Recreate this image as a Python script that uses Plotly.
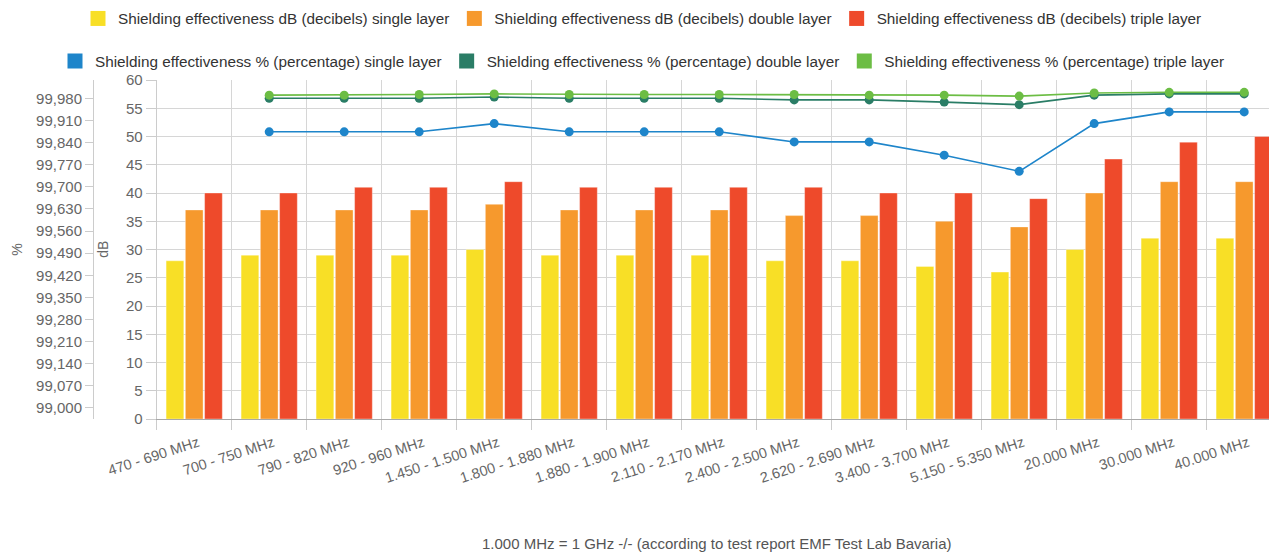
import plotly.graph_objects as go

categories = ["470 - 690 MHz", "700 - 750 MHz", "790 - 820 MHz", "920 - 960 MHz",
              "1.450 - 1.500 MHz", "1.800 - 1.880 MHz", "1.880 - 1.900 MHz",
              "2.110 - 2.170 MHz", "2.400 - 2.500 MHz", "2.620 - 2.690 MHz",
              "3.400 - 3.700 MHz", "5.150 - 5.350 MHz", "20.000 MHz", "30.000 MHz",
              "40.000 MHz"]

db_single = [28, 29, 29, 29, 30, 29, 29, 29, 28, 28, 27, 26, 30, 32, 32]
db_double = [37, 37, 37, 37, 38, 37, 37, 37, 36, 36, 35, 34, 40, 42, 42]
db_triple = [40, 40, 41, 41, 42, 41, 41, 41, 41, 40, 40, 39, 46, 49, 50]

pct_single = [None, 99.874, 99.874, 99.874, 99.900, 99.874, 99.874, 99.874,
              99.842, 99.842, 99.800, 99.749, 99.900, 99.937, 99.937]
pct_double = [None, 99.980, 99.980, 99.980, 99.984, 99.980, 99.980, 99.980,
              99.975, 99.975, 99.968, 99.960, 99.990, 99.994, 99.994]
pct_triple = [None, 99.990, 99.990, 99.992, 99.994, 99.992, 99.992, 99.992,
              99.992, 99.990, 99.990, 99.987, 99.997, 99.999, 99.999]

pct_ticks = [99.00, 99.07, 99.14, 99.21, 99.28, 99.35, 99.42, 99.49, 99.56,
             99.63, 99.70, 99.77, 99.84, 99.91, 99.98]
db_ticks = [0, 5, 10, 15, 20, 25, 30, 35, 40, 45, 50, 55, 60]

bar_names = ["Shielding effectiveness dB (decibels) single layer",
             "Shielding effectiveness dB (decibels) double layer",
             "Shielding effectiveness dB (decibels) triple layer"]
line_names = ["Shielding effectiveness % (percentage) single layer",
              "Shielding effectiveness % (percentage) double layer",
              "Shielding effectiveness % (percentage) triple layer"]
bar_colors = ["#F8DF26", "#F6992D", "#EE4A2B"]
line_colors = ["#1E85CA", "#2A7D66", "#6CBD44"]

# the page body adds an 8px margin; figure is sized/positioned to compensate
OFF = 8
W, H = 1277 - OFF, 554 - OFF
FONT = "Liberation Sans, Arial, sans-serif"


def fx(sx):
    return sx - OFF


def fy(sy):
    return sy - OFF


plot_left = fx(156.7)
plot_top = fy(80)
plot_bottom = fy(419.3)
plot_h = plot_bottom - plot_top


def py(sy):
    return (plot_bottom - fy(sy)) / plot_h


fig = go.Figure()

for name, vals, col in zip(bar_names, [db_single, db_double, db_triple], bar_colors):
    fig.add_trace(go.Bar(
        x=categories, y=vals, name=name, marker_color=col,
        marker_line=dict(color="rgba(255,255,255,0.35)", width=1),
        xaxis="x", yaxis="y", showlegend=False))

for name, vals, col in zip(line_names, [pct_single, pct_double, pct_triple], line_colors):
    fig.add_trace(go.Scatter(
        x=categories, y=vals, name=name, mode="lines+markers",
        line=dict(color=col, width=1.6), marker=dict(color=col, size=9),
        xaxis="x", yaxis="y2", showlegend=False))

# square legend swatches
for name, col in zip(bar_names, bar_colors):
    fig.add_trace(go.Scatter(
        x=[None], y=[None], name=name, mode="markers",
        marker=dict(color=col, size=15, symbol="square"),
        xaxis="x", yaxis="y", legend="legend"))
for name, col in zip(line_names, line_colors):
    fig.add_trace(go.Scatter(
        x=[None], y=[None], name=name, mode="markers",
        marker=dict(color=col, size=15, symbol="square"),
        xaxis="x", yaxis="y2", legend="legend2"))

ncat_visible = (W - plot_left) / 75.0

fig.update_layout(
    width=W, height=H,
    margin=dict(l=0, r=0, t=plot_top, b=H - plot_bottom, autoexpand=False),
    paper_bgcolor="white", plot_bgcolor="white",
    font=dict(family=FONT, color="#666666", size=15),
    separators=",.",
    barmode="group", bargap=0.23, bargroupgap=0.08,
    xaxis=dict(
        domain=[plot_left / W, 1], type="category",
        range=[-0.5, -0.5 + ncat_visible],
        tickson="boundaries", ticks="outside", ticklen=10, tickcolor="#cccccc",
        showgrid=True, gridcolor="#d6d6d6", gridwidth=1,
        showline=True, linecolor="#a8a8a8", linewidth=1,
        tickangle=-18, ticklabelstandoff=9, ticklabelshift=4,
        tickfont=dict(size=14.5, color="#666666"),
        automargin=False, zeroline=False),
    yaxis=dict(
        range=[0, 60], tickvals=db_ticks, ticks="outside", ticklen=10,
        tickcolor="#cccccc", showline=True, linecolor="#cccccc",
        showgrid=True, gridcolor="#d6d6d6", gridwidth=1, zeroline=False,
        tickfont=dict(size=15, color="#666666"), automargin=False),
    yaxis2=dict(
        overlaying="y", anchor="free", side="left", position=fx(93) / W,
        range=[98.965, 100.038], tickvals=pct_ticks, tickformat=".3f",
        ticks="outside", ticklen=8, tickcolor="#cccccc",
        showline=True, linecolor="#cccccc", showgrid=False, zeroline=False,
        tickfont=dict(size=15, color="#666666"), automargin=False),
    legend=dict(
        orientation="h", xref="container", yref="container",
        x=0.5, xanchor="center", y=1 - fy(18.5) / H, yanchor="middle",
        font=dict(size=15.3, color="#333333"), bgcolor="rgba(0,0,0,0)",
        traceorder="normal"),
    legend2=dict(
        orientation="h", xref="container", yref="container",
        x=0.5, xanchor="center", y=1 - fy(61) / H, yanchor="middle",
        font=dict(size=15.3, color="#333333"), bgcolor="rgba(0,0,0,0)",
        traceorder="normal"),
    showlegend=True,
    annotations=[
        dict(text="%", xref="paper", yref="paper", x=fx(17) / W, y=py(250),
             textangle=-90, showarrow=False, font=dict(size=14, color="#666666"),
             xanchor="center", yanchor="middle"),
        dict(text="dB", xref="paper", yref="paper", x=fx(103) / W, y=py(250),
             textangle=-90, showarrow=False, font=dict(size=14, color="#666666"),
             xanchor="center", yanchor="middle"),
        dict(text="1.000 MHz = 1 GHz -/- (according to test report EMF Test Lab Bavaria)",
             xref="paper", yref="paper", x=fx(717) / W, y=py(544),
             showarrow=False, font=dict(size=15, color="#555555"),
             xanchor="center", yanchor="middle"),
    ],
)

fig.write_html("out.html")
